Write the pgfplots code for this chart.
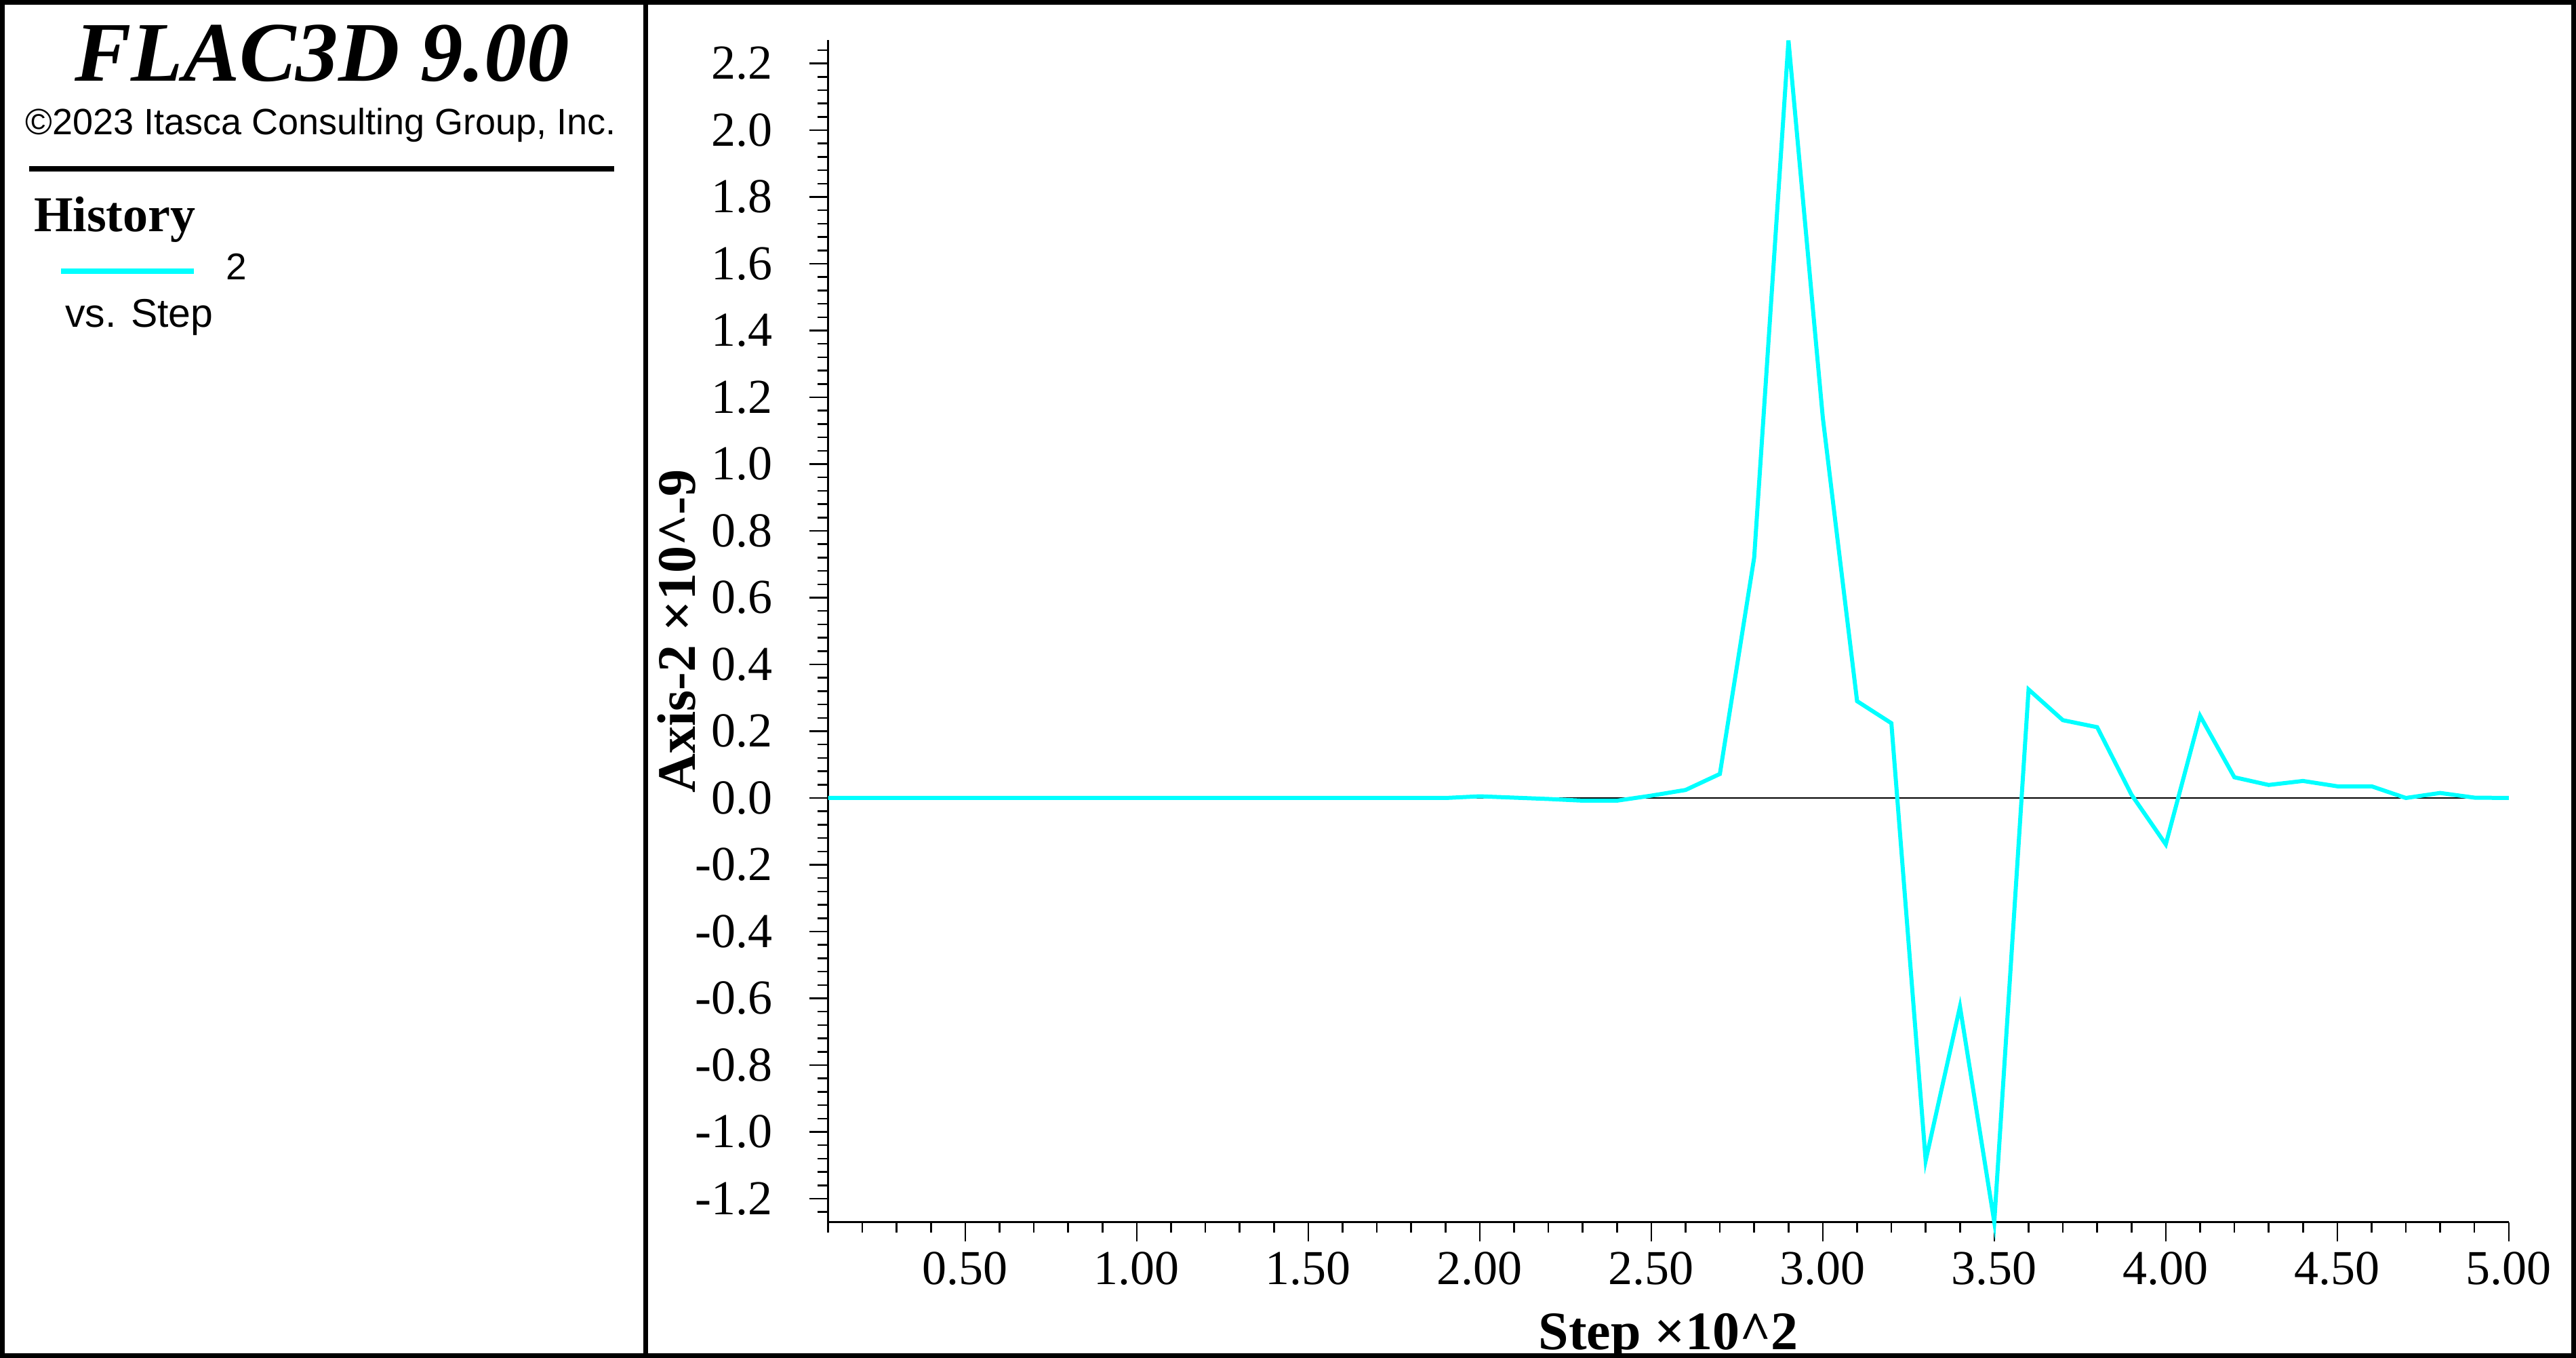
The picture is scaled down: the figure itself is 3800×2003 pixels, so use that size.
\documentclass[border=0pt]{standalone}
\usepackage{pgfplots}
\usepackage{pgfplotstable}
\pgfplotsset{compat=1.18}
\usepackage{fontspec}
\setmainfont{Liberation Serif}
\setsansfont{Liberation Sans}
\definecolor{histcyan}{RGB}{0,255,255}

% history 2, steps x10^2 vs value x10^-9
\pgfplotstableread{
step val
0.1 0
0.2 0
0.3 0
0.4 0
0.5 0
0.6 0
0.7 0
0.8 0
0.9 0
1.0 0
1.1 0
1.2 0
1.3 0
1.4 0
1.5 0
1.6 0
1.7 0
1.8 0
1.9 0
2.0 0.005
2.1 0.001
2.2 -0.003
2.3 -0.008
2.4 -0.008
2.5 0.007
2.6 0.024
2.7 0.072
2.8 0.72
2.9 2.269
3.0 1.14
3.1 0.29
3.2 0.224
3.3 -1.086
3.4 -0.625
3.5 -1.270
3.6 0.325
3.7 0.233
3.8 0.212
3.9 0.01
4.0 -0.139
4.1 0.246
4.2 0.062
4.3 0.039
4.4 0.051
4.5 0.035
4.6 0.035
4.7 0.0
4.8 0.015
4.9 0.001
5.0 0.0
}\histtwo

\begin{document}
\begin{tikzpicture}[x=0.1pt,y=0.1pt]
\useasboundingbox (0,0) rectangle (3800,2003);
% outer frame and divider
\draw[line width=0.7pt] (3.5,3.5) rectangle (3796.5,1999.5);
\draw[line width=0.7pt] (952.5,0) -- (952.5,2003);
% left panel
\node[anchor=base, inner sep=0pt, font=\fontsize{12.5}{15}\selectfont\bfseries\itshape] at (475,1883) {FLAC3D 9.00};
\node[anchor=base, inner sep=0pt, font=\sffamily\fontsize{5.4}{6.5}\selectfont] at (473,1804) {©2023 Itasca Consulting Group, Inc.};
\draw[line width=0.8pt] (43,1754) -- (906,1754);
\node[anchor=base west, inner sep=0pt, font=\fontsize{7.4}{9}\selectfont\bfseries] at (48,1661) {History};
\draw[histcyan, line width=0.8pt] (90,1603) -- (286,1603);
\node[anchor=base west, inner sep=0pt, font=\sffamily\fontsize{5.5}{6.6}\selectfont] at (331,1590) {2};
\node[anchor=base west, inner sep=0pt, font=\sffamily\fontsize{5.9}{7}\selectfont] at (94,1520) {vs. Step};

\begin{axis}[
  at={(122.16pt,20.03pt)}, anchor=south west,
  scale only axis, width=247.94pt, height=174.34pt,
  xmin=0.1, xmax=5.0, ymin=-1.2705, ymax=2.2694,
  axis lines=left, axis line style={-, line width=0.25pt},
  clip=false,
  tick align=outside,
  major tick length=2.8pt, minor tick length=1.55pt,
  tick style={black, line width=0.25pt},
  xtick={0.5,1.0,1.5,2.0,2.5,3.0,3.5,4.0,4.5,5.0},
  xticklabels={0.50,1.00,1.50,2.00,2.50,3.00,3.50,4.00,4.50,5.00},
  minor xtick={0.1,0.2,...,5.0},
  ytick={-1.2,-1.0,-0.8,-0.6,-0.4,-0.2,0,0.2,0.4,0.6,0.8,1.0,1.2,1.4,1.6,1.8,2.0,2.2},
  yticklabels={-1.2,-1.0,-0.8,-0.6,-0.4,-0.2,0.0,0.2,0.4,0.6,0.8,1.0,1.2,1.4,1.6,1.8,2.0,2.2},
  minor ytick={-1.24,-1.20,...,2.25},
  xticklabel style={font=\fontsize{7.2}{8.6}\selectfont, inner sep=0pt, anchor=base, yshift=-6.4pt},
  yticklabel style={font=\fontsize{7.2}{8.6}\selectfont, inner sep=0pt, anchor=east, xshift=-5.2pt},
  xlabel={Step ×10\textasciicircum 2},
  ylabel={Axis-2 ×10\textasciicircum -9},
  xlabel style={at={(axis description cs:0.5,-0.1075)}, anchor=base, inner sep=0pt, font=\fontsize{8}{9.6}\selectfont\bfseries},
  ylabel style={at={(axis description cs:-0.07889,0.5)}, anchor=base, inner sep=0pt, font=\fontsize{8}{9.6}\selectfont\bfseries},
]
\addplot[black, line width=0.2pt] coordinates {(0.1,0) (5.0,0)};
\addplot[histcyan, line width=0.6pt] table[x=step, y=val] {\histtwo};
\end{axis}
\end{tikzpicture}
\end{document}
